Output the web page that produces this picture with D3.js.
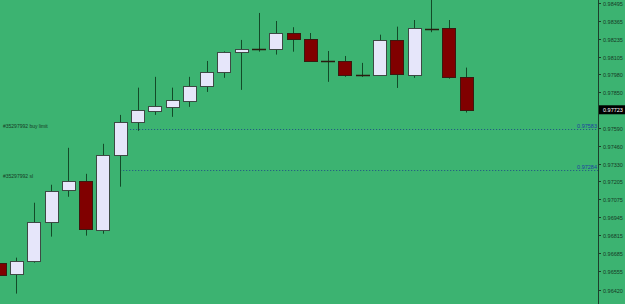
<!DOCTYPE html>
<html>
<head>
<meta charset="utf-8">
<script src="https://cdn.jsdelivr.net/npm/d3@7"></script>
<style>
  html, body { margin: 0; padding: 0; background: #3cb371; }
  svg { display: block; }
</style>
</head>
<body>
<svg id="chart"></svg>
<script>
// candle data, oldest first
const opens  = [0.96618, 0.96538, 0.96632, 0.96914, 0.97140, 0.97210, 0.96856, 0.97395, 0.97636, 0.97713,
                0.97746, 0.97790, 0.97898, 0.97995, 0.98141, 0.98166, 0.98163, 0.98278, 0.98235, 0.98079,
                0.98076, 0.97978, 0.97975, 0.98226, 0.97980, 0.98309, 0.98317, 0.97961];
const highs  = [0.96625, 0.96654, 0.97051, 0.97181, 0.97448, 0.97260, 0.97477, 0.97686, 0.97883, 0.97961,
                0.97883, 0.97961, 0.98076, 0.98145, 0.98228, 0.98423, 0.98365, 0.98320, 0.98278, 0.98148,
                0.98112, 0.98062, 0.98266, 0.98324, 0.98372, 0.98580, 0.98372, 0.98028];
const lows   = [0.96525, 0.96394, 0.96618, 0.96806, 0.97094, 0.96813, 0.96827, 0.97167, 0.97571, 0.97686,
                0.97672, 0.97744, 0.97852, 0.97954, 0.97867, 0.98143, 0.98122, 0.98143, 0.98069, 0.97925,
                0.97961, 0.97961, 0.97968, 0.97881, 0.97954, 0.98284, 0.97948, 0.97703];
const closes = [0.96531, 0.96632, 0.96914, 0.97138, 0.97208, 0.96863, 0.97398, 0.97636, 0.97720, 0.97749,
                0.97795, 0.97896, 0.97997, 0.98141, 0.98161, 0.98165, 0.98276, 0.98235, 0.98078, 0.98078,
                0.97977, 0.97977, 0.98226, 0.97982, 0.98317, 0.98309, 0.97961, 0.97723];

const tickLabels = ["0.98495", "0.98365", "0.98235", "0.98105", "0.97980", "0.97850", "0.97720",
                    "0.97590", "0.97460", "0.97330", "0.97205", "0.97075", "0.96945", "0.96815",
                    "0.96685", "0.96555", "0.96420"];

// pending order lines
const orderNames  = ["#35297992 buy limit", "#35297992 sl"];
const orderPrices = [0.97583, 0.97284];
const orderStart  = [7.4, 7.0];     // candle index where the line begins
const labelShift  = [-2, 7.5];      // label offset from the line

const W = 625, H = 304;
const axisX = 598;
const bodyW = 13;
const font = "Liberation Sans, Arial, sans-serif";

const svg = d3.select("#chart").attr("width", W).attr("height", H);

svg.append("rect").attr("width", W).attr("height", H).attr("fill", "#3cb371");

const x = d3.scaleLinear().domain([0, opens.length - 1]).range([-0.8, 466]);
const y = d3.scaleLinear().domain([0.98495, 0.96420]).range([3, 290]);

const candles = opens.map((o, i) => ({ i, o, h: highs[i], l: lows[i], c: closes[i] }));

// order lines
const orders = svg.append("g");
orderPrices.forEach((p, k) => {
  const yy = Math.round(y(p)) + 0.5;
  orders.append("line")
    .attr("x1", x(orderStart[k])).attr("x2", axisX)
    .attr("y1", yy).attr("y2", yy)
    .attr("stroke", "#1f4f86").attr("stroke-width", 1)
    .attr("stroke-dasharray", "1,2");
  orders.append("text")
    .attr("x", 3).attr("y", yy + labelShift[k])
    .attr("font-family", font)
    .attr("font-size", "5px").attr("fill", "#173a25")
    .text(orderNames[k]);
  orders.append("text")
    .attr("x", axisX - 1).attr("y", yy - 1.5)
    .attr("text-anchor", "end")
    .attr("font-family", font)
    .attr("font-size", "5.5px").attr("fill", "#1f3fa0")
    .text(p.toFixed(5));
});

// wicks
const g = svg.append("g");
g.selectAll("line.wick")
  .data(candles)
  .join("line")
  .attr("class", "wick")
  .attr("x1", d => Math.round(x(d.i)) + 0.5)
  .attr("x2", d => Math.round(x(d.i)) + 0.5)
  .attr("y1", d => y(d.h))
  .attr("y2", d => y(d.l))
  .attr("stroke", "#134a28")
  .attr("stroke-width", 1);

// bodies
g.selectAll("rect.body")
  .data(candles.filter(d => Math.abs(y(d.o) - y(d.c)) >= 1.5))
  .join("rect")
  .attr("class", "body")
  .attr("x", d => Math.round(x(d.i) - bodyW / 2) + 0.5)
  .attr("y", d => Math.round(Math.min(y(d.o), y(d.c))) + 0.5)
  .attr("width", bodyW)
  .attr("height", d => Math.max(1, Math.round(Math.abs(y(d.o) - y(d.c)))))
  .attr("fill", d => d.c >= d.o ? "#e6e6fa" : "#800000")
  .attr("stroke", d => d.c >= d.o ? "#3d4a44" : "#3a1a10")
  .attr("stroke-width", 1);

// doji bars
g.selectAll("line.doji")
  .data(candles.filter(d => Math.abs(y(d.o) - y(d.c)) < 1.5))
  .join("line")
  .attr("class", "doji")
  .attr("x1", d => Math.round(x(d.i) - bodyW / 2))
  .attr("x2", d => Math.round(x(d.i) + bodyW / 2) + 1)
  .attr("y1", d => Math.round(y(d.c)) + 0.5)
  .attr("y2", d => Math.round(y(d.c)) + 0.5)
  .attr("stroke", "#2a1a0e")
  .attr("stroke-width", 1.5);

// price axis
const ax = svg.append("g");
ax.append("line")
  .attr("x1", axisX + 0.5).attr("x2", axisX + 0.5)
  .attr("y1", 0).attr("y2", H)
  .attr("stroke", "#1d3d2a").attr("stroke-width", 1);

tickLabels.forEach(t => {
  const yy = Math.round(y(+t)) + 0.5;
  ax.append("line")
    .attr("x1", axisX).attr("x2", axisX + 3)
    .attr("y1", yy).attr("y2", yy)
    .attr("stroke", "#1d3d2a");
  ax.append("text")
    .attr("x", axisX + 5).attr("y", yy + 2)
    .attr("font-family", font)
    .attr("font-size", "5.5px").attr("fill", "#173a25")
    .text(t);
});

// current price marker
const last = closes[closes.length - 1];
const ly = y(last);
ax.append("rect")
  .attr("x", axisX + 1).attr("y", ly - 4.5)
  .attr("width", W - axisX - 1).attr("height", 9)
  .attr("fill", "#000");
ax.append("text")
  .attr("x", axisX + 5).attr("y", ly + 2)
  .attr("font-family", font)
  .attr("font-size", "5.5px").attr("fill", "#fff")
  .text(last.toFixed(5));
</script>
</body>
</html>
